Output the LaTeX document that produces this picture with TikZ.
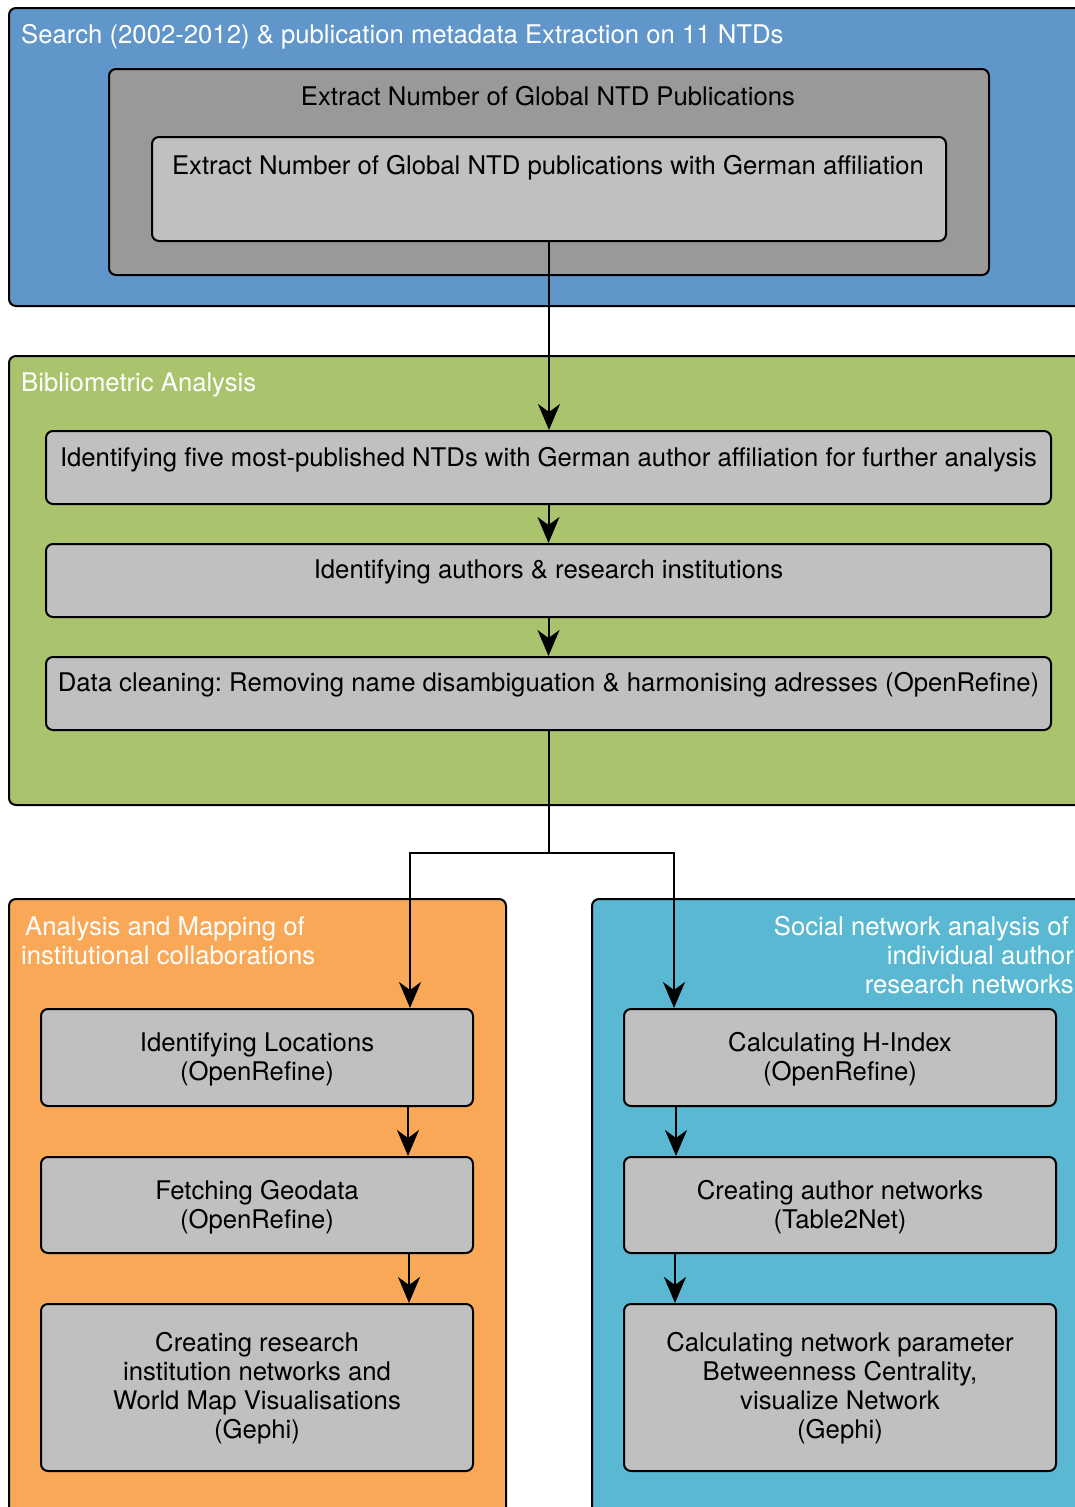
\documentclass[tikz,border=0pt]{standalone}
\usepackage{fontspec}
\setmainfont{TeX Gyre Heros}
\usetikzlibrary{arrows.meta,calc}
\definecolor{blueC}{RGB}{96,150,201}
\definecolor{greenC}{RGB}{169,196,108}
\definecolor{orangeC}{RGB}{249,168,88}
\definecolor{cyanC}{RGB}{90,184,210}
\definecolor{dgray}{RGB}{153,153,153}
\definecolor{lgray}{RGB}{192,192,192}
\newcommand\myfs{\fontsize{25.7}{29}\selectfont\frenchspacing}
\begin{document}
\begin{tikzpicture}[x=1pt,y=-1pt,
  cont/.style={draw=black, line width=2pt, rounded corners=7pt, anchor=north west, inner sep=0pt},
  box/.style={draw=black, line width=2pt, rounded corners=7pt, fill=lgray, anchor=north west, inner sep=0pt},
  txt/.style={font=\myfs, align=center, inner sep=0pt, text=black},
  ttl/.style={font=\myfs, inner sep=0pt, text=white},
  arr/.style={line width=2pt, -{Stealth[length=26pt,width=22pt,inset=8pt]}}]
\clip (0,0) rectangle (1075,1507);
\fill[white] (0,0) rectangle (1075,1507);
% containers
\node[cont, fill=blueC, minimum width=1090pt, minimum height=298pt] (blue) at (8,7) {};
\node[ttl, anchor=base west] (bluet) at (21,43) {Search (2002-2012) \& publication metadata Extraction on 11 NTDs};
\node[cont, fill=dgray, minimum width=880pt, minimum height=206pt] (outer) at (108,68) {};
\node[ttl, text=black, anchor=base] (outert) at (548,105) {Extract Number of Global NTD Publications};
\node[box, minimum width=794pt, minimum height=104pt] (inner) at (151,136) {};
\node[txt, anchor=base] (innert) at (548,174) {Extract Number of Global NTD publications with German affiliation};

\node[cont, fill=greenC, minimum width=1090pt, minimum height=449pt] (green) at (8,355) {};
\node[ttl, anchor=base west] (greent) at (21,391) {Bibliometric Analysis};
\node[box, minimum width=1005pt, minimum height=73pt,
  label={[txt, yshift=8pt]center:Identifying five most-published NTDs with German author affiliation for further analysis}] (b1) at (45,430) {};
\node[box, minimum width=1005pt, minimum height=73pt,
  label={[txt, yshift=9pt]center:Identifying authors \& research institutions}] (b2) at (45,543) {};
\node[box, minimum width=1005pt, minimum height=73pt,
  label={[txt, yshift=9pt]center:Data cleaning: Removing name disambiguation \& harmonising adresses (OpenRefine)}] (b3) at (45,656) {};

\node[cont, fill=orangeC, minimum width=497pt, minimum height=650pt] (orange) at (8,898) {};
\node[ttl, anchor=north west, align=left] (oranget) at (21,916) {\hspace*{4pt}Analysis and Mapping of\\institutional collaborations};
\node[box, minimum width=432pt, minimum height=97pt,
  label={[txt, yshift=-2pt]center:Identifying Locations\\(OpenRefine)}] (o1) at (40,1008) {};
\node[box, minimum width=432pt, minimum height=96pt,
  label={[txt, yshift=-2pt]center:Fetching Geodata\\(OpenRefine)}] (o2) at (40,1156) {};
\node[box, minimum width=432pt, minimum height=167pt,
  label={[txt, yshift=-1pt]center:Creating research\\institution networks and\\World Map Visualisations\\(Gephi)}] (o3) at (40,1303) {};

\node[cont, fill=cyanC, minimum width=500pt, minimum height=650pt] (cyan) at (591,898) {};
\node[ttl, anchor=north east, align=right] (cyant) at (1074,916) {Social network analysis of\hspace*{5pt}\\individual author\hspace*{5pt}\\research networks};
\node[box, minimum width=432pt, minimum height=97pt,
  label={[txt, yshift=-2pt]center:Calculating H-Index\\(OpenRefine)}] (c1) at (623,1008) {};
\node[box, minimum width=432pt, minimum height=96pt,
  label={[txt, yshift=-2pt]center:Creating author networks\\(Table2Net)}] (c2) at (623,1156) {};
\node[box, minimum width=432pt, minimum height=167pt,
  label={[txt, yshift=-1pt]center:Calculating network parameter\\Betweenness Centrality,\\visualize Network\\(Gephi)}] (c3) at (623,1303) {};

% connectors
\coordinate (split) at ($(b3.south)+(0,122)$);
\draw[arr] (inner.south) -- (inner.south |- b1.north);
\draw[arr] (b1) -- (b2);
\draw[arr] (b2) -- (b3);
\draw[line width=2pt] (b3.south) -- (split);
\draw[arr] (split) -| ($(o1.north east)+(-64,0)$);
\draw[arr] (split) -| ($(c1.north west)+(51,0)$);
\draw[arr] ($(o1.south east)+(-66,0)$) -- ($(o2.north east)+(-66,0)$);
\draw[arr] ($(o2.south east)+(-65,0)$) -- ($(o3.north east)+(-65,0)$);
\draw[arr] ($(c1.south west)+(53,0)$) -- ($(c2.north west)+(53,0)$);
\draw[arr] ($(c2.south west)+(52,0)$) -- ($(c3.north west)+(52,0)$);
\end{tikzpicture}
\end{document}
